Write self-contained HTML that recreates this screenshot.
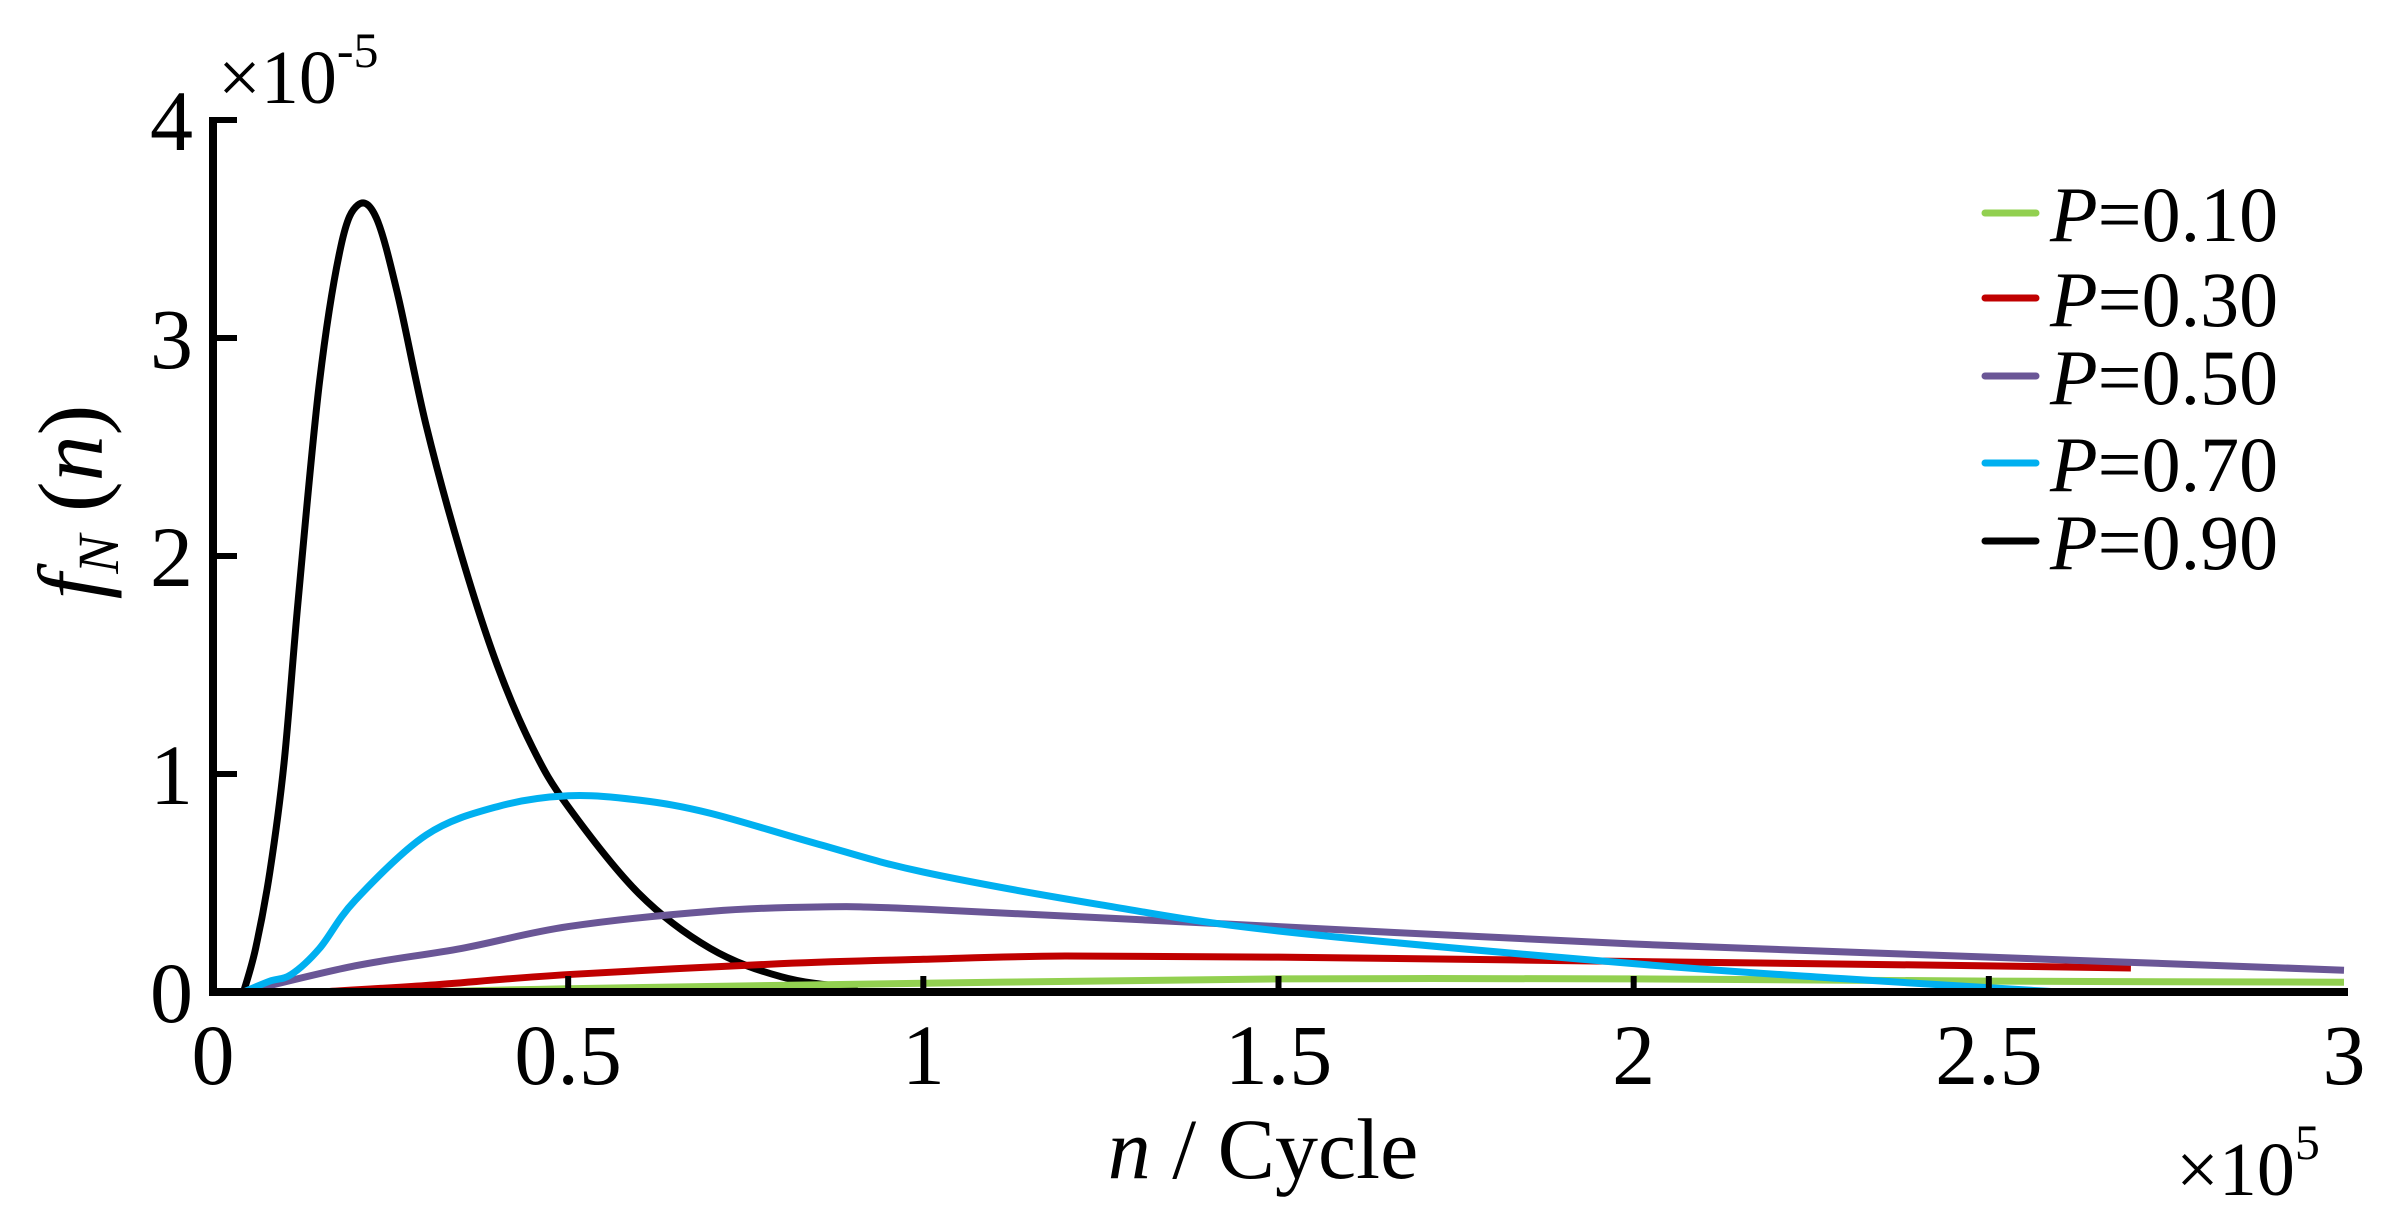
<!DOCTYPE html>
<html><head><meta charset="utf-8"><style>
html,body{margin:0;padding:0;background:#fff;}
svg{display:block;font-family:"Liberation Serif",serif;}
</style></head><body>
<svg id="chart" width="2386" height="1230" viewBox="0 0 2386 1230">
<g id="series"></g>
<g id="axes"></g>
<g id="legend"></g>
</svg>
<script>
const xTicks = [0, 0.5, 1, 1.5, 2, 2.5, 3];
const xTickLabels = ["0", "0.5", "1", "1.5", "2", "2.5", "3"];
const yTicks = [0, 1, 2, 3, 4];
const yTickLabels = ["0", "1", "2", "3", "4"];
const seriesNames = ["P=0.10", "P=0.30", "P=0.50", "P=0.70", "P=0.90"];
const seriesColors = ["#92d050", "#c00000", "#6a5696", "#00b0f0", "#000000"];
const xP10 = [0.3, 0.5, 1, 1.5, 2, 2.5, 3];
const yP10 = [0, 0.015, 0.04, 0.06, 0.06, 0.05, 0.045];
const xP30 = [0.15, 0.3, 0.5, 0.8, 1, 1.2, 1.5, 2, 2.5, 2.7];
const yP30 = [0, 0.03, 0.08, 0.13, 0.15, 0.165, 0.16, 0.14, 0.12, 0.11];
const xP50 = [0.043, 0.2, 0.35, 0.5, 0.7, 0.85, 1, 1.5, 2, 2.5, 3];
const yP50 = [0, 0.12, 0.2, 0.3, 0.37, 0.39, 0.38, 0.3, 0.22, 0.16, 0.1];
const xP70 = [0.043, 0.08, 0.11, 0.15, 0.2, 0.3, 0.4, 0.5, 0.6, 0.7, 0.85, 1, 1.25, 1.5, 2, 2.3, 2.6];
const yP70 = [0, 0.05, 0.08, 0.2, 0.42, 0.72, 0.85, 0.9, 0.88, 0.82, 0.68, 0.55, 0.4, 0.28, 0.13, 0.06, 0];
const xP90 = [0.043, 0.06, 0.08, 0.1, 0.12, 0.15, 0.18, 0.204, 0.23, 0.26, 0.3, 0.35, 0.4, 0.45, 0.5, 0.6, 0.7, 0.8, 0.9, 1.0, 3];
const yP90 = [0, 0.2, 0.55, 1.05, 1.8, 2.8, 3.42, 3.61, 3.55, 3.2, 2.6, 2.0, 1.5, 1.12, 0.85, 0.45, 0.2, 0.07, 0.02, 0, 0];

const X0 = 213, X1 = 2344, Y0 = 992, Y1 = 120;
const xs = v => X0 + (v - 0) / 3 * (X1 - X0);
const ys = v => Y0 - v / 4 * (Y0 - Y1);
const NS = "http://www.w3.org/2000/svg";
function mk(tag, attrs, parent) {
  const e = document.createElementNS(NS, tag);
  for (const k in attrs) e.setAttribute(k, attrs[k]);
  parent.appendChild(e);
  return e;
}
function smoothPath(xa, ya) {
  const p = xa.map((x, i) => [xs(x), ys(ya[i])]);
  let d = "M" + p[0][0] + "," + p[0][1];
  for (let i = 0; i < p.length - 1; i++) {
    const p0 = p[i - 1] || p[i], p1 = p[i], p2 = p[i + 1], p3 = p[i + 2] || p2;
    const c1x = p1[0] + (p2[0] - p0[0]) / 6, c1y = p1[1] + (p2[1] - p0[1]) / 6;
    const c2x = p2[0] - (p3[0] - p1[0]) / 6, c2y = p2[1] - (p3[1] - p1[1]) / 6;
    d += " C" + c1x + "," + c1y + " " + c2x + "," + c2y + " " + p2[0] + "," + p2[1];
  }
  return d;
}
const seriesX = [xP10, xP30, xP50, xP70, xP90];
const seriesY = [yP10, yP30, yP50, yP70, yP90];
const sg = document.getElementById("series");
[4, 0, 1, 2, 3].forEach(i => {
  const p = mk("path", {d: smoothPath(seriesX[i], seriesY[i]), fill: "none", stroke: seriesColors[i], "stroke-width": 7, "stroke-linejoin": "round"}, sg);
  
  
});
const ag = document.getElementById("axes");
const yaxis = mk("line", {x1: X0, y1: Y1 - 3, x2: X0, y2: Y0 + 4, stroke: "#000", "stroke-width": 8}, ag);


const xaxis = mk("line", {x1: X0 - 4, y1: Y0, x2: X1 + 4, y2: Y0, stroke: "#000", "stroke-width": 8}, ag);


yTicks.forEach((v, i) => {
  if (v > 0) {
    const t = mk("line", {x1: X0, y1: ys(v), x2: X0 + 24, y2: ys(v), stroke: "#000", "stroke-width": 6}, ag);
    
    
  }
  const l = mk("text", {x: 193, y: ys(v) + 30, "text-anchor": "end", "font-size": 86}, ag);
  l.textContent = yTickLabels[i];
  
  
});
xTicks.forEach((v, i) => {
  if (v > 0 && v < 3) {
    const t = mk("line", {x1: xs(v), y1: Y0, x2: xs(v), y2: Y0 - 16, stroke: "#000", "stroke-width": 6}, ag);
    
    
  }
  const l = mk("text", {x: xs(v), y: 1084, "text-anchor": "middle", "font-size": 86}, ag);
  l.textContent = xTickLabels[i];
  
  
});
const lg = document.getElementById("legend");
const rowY = [213, 298, 376, 463, 541];
seriesNames.forEach((n, i) => {
  const ln = mk("line", {x1: 1985, y1: rowY[i], x2: 2036, y2: rowY[i], stroke: seriesColors[i], "stroke-width": 7, "stroke-linecap": "round"}, lg);
  
  
  const t = mk("text", {x: 2050, y: rowY[i] + 28, "font-size": 78}, lg);
  t.innerHTML = '<tspan font-style="italic">P</tspan>=' + n.split('=')[1];
  
  
});
</script>
<svg style="position:absolute;left:0;top:0" width="2386" height="1230">
<text x="218" y="103" font-size="76" font-family="Liberation Serif, serif">×10<tspan font-size="50" dy="-36">-5</tspan></text>
<text x="2176" y="1195" font-size="76" font-family="Liberation Serif, serif">×10<tspan font-size="50" dy="-36">5</tspan></text>
<text x="1263" y="1178" font-size="86" text-anchor="middle" font-family="Liberation Serif, serif"><tspan font-style="italic">n</tspan> / Cycle</text>
<text transform="translate(102,502) rotate(-90)" font-size="92" text-anchor="middle" font-family="Liberation Serif, serif"><tspan font-style="italic">f</tspan><tspan font-style="italic" font-size="58" dy="16">N</tspan><tspan dy="-16"> (</tspan><tspan font-style="italic">n</tspan>)</text>
</svg>
</body></html>
